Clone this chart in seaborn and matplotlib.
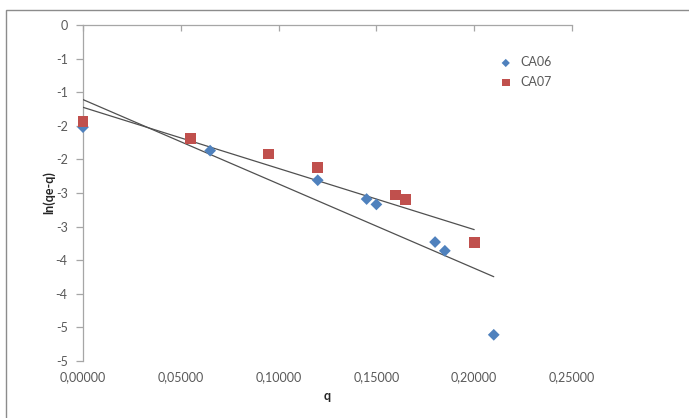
import numpy as np
import pandas as pd
import matplotlib
matplotlib.use("Agg")
import matplotlib.pyplot as plt
import seaborn as sns
from matplotlib.patches import Rectangle

# data
q_ca06 = [0.0, 0.065, 0.12, 0.145, 0.15, 0.18, 0.185, 0.21]
ln_ca06 = [-1.52, -1.87, -2.31, -2.59, -2.67, -3.23, -3.36, -4.61]
q_ca07 = [0.0, 0.055, 0.095, 0.12, 0.16, 0.165, 0.2]
ln_ca07 = [-1.43, -1.69, -1.92, -2.12, -2.53, -2.59, -3.23]

# linear trendlines (intercept, slope) as shown on the chart
trend_ca06 = (-1.11, -12.55)
trend_ca07 = (-1.225, -9.1)

xtick_vals = [0.0, 0.05, 0.10, 0.15, 0.20, 0.25]
xtick_labels = ["0,00000", "0,05000", "0,10000", "0,15000", "0,20000", "0,25000"]
ytick_vals = [0, -0.5, -1, -1.5, -2, -2.5, -3, -3.5, -4, -4.5, -5]
ytick_labels = ["0", "-1", "-1", "-2", "-2", "-3", "-3", "-4", "-4", "-5", "-5"]

sns.set_style("white")
plt.rcParams['font.family'] = ['Lato', 'DejaVu Sans']

W, H = 689, 418
fig = plt.figure(figsize=(W / 100, H / 100), dpi=100)
ax = fig.add_axes([83 / W, 1 - 361 / H, (572 - 83) / W, (361 - 25) / H])

blue = "#4F81BD"
red = "#C0504D"
axis_col = "#A6A6A6"
text_col = "#595959"

# trendlines
for (b0, b1), xs in [(trend_ca06, q_ca06), (trend_ca07, q_ca07)]:
    xx = np.array([min(xs), max(xs)])
    ax.plot(xx, b0 + b1 * xx, color="#505050", lw=0.9, zorder=3)

sns.scatterplot(x=q_ca06, y=ln_ca06, marker="D", color=blue, s=36,
                edgecolor="none", label="CA06", ax=ax, zorder=4, clip_on=False)
sns.scatterplot(x=q_ca07, y=ln_ca07, marker="s", color=red, s=62,
                edgecolor="none", label="CA07", ax=ax, zorder=4, clip_on=False)

ax.set_xlim(0, 0.25)
ax.set_ylim(-5, 0)

for s in ["right", "bottom"]:
    ax.spines[s].set_visible(False)
for s in ["top", "left"]:
    ax.spines[s].set_visible(True)
    ax.spines[s].set_color(axis_col)
    ax.spines[s].set_linewidth(0.9)

ax.set_xticks(xtick_vals)
ax.set_xticklabels(xtick_labels)
ax.set_yticks(ytick_vals)
ax.set_yticklabels(ytick_labels)
ax.tick_params(axis="x", bottom=False, top=True, labelbottom=True, labeltop=False,
               direction="in", length=4, width=0.9, color=axis_col,
               labelsize=9, labelcolor=text_col, pad=7)
ax.tick_params(axis="y", left=True, direction="out", length=5, width=0.9,
               color=axis_col, labelsize=9, labelcolor=text_col, pad=6)

ax.set_xlabel("q", fontsize=9, fontweight="bold", color="#262626", labelpad=5)
ax.set_ylabel("ln(qe-q)", fontsize=9, fontweight="bold", color="#262626", labelpad=0)

ax.legend(loc="upper left", bbox_to_anchor=((487 - 83) / (572 - 83), 1 - (45 - 25) / 336),
          frameon=False, fontsize=9, markerscale=0.7, handletextpad=0.6,
          labelspacing=0.6, handlelength=1.2, labelcolor=text_col)

# chart area border
fig.add_artist(Rectangle((6 / W, -0.1), 1.2, 1.1 - 10 / H,
                         transform=fig.transFigure, fill=False,
                         edgecolor="#8C8C8C", lw=1.0))

fig.savefig("out.png", dpi=100)
